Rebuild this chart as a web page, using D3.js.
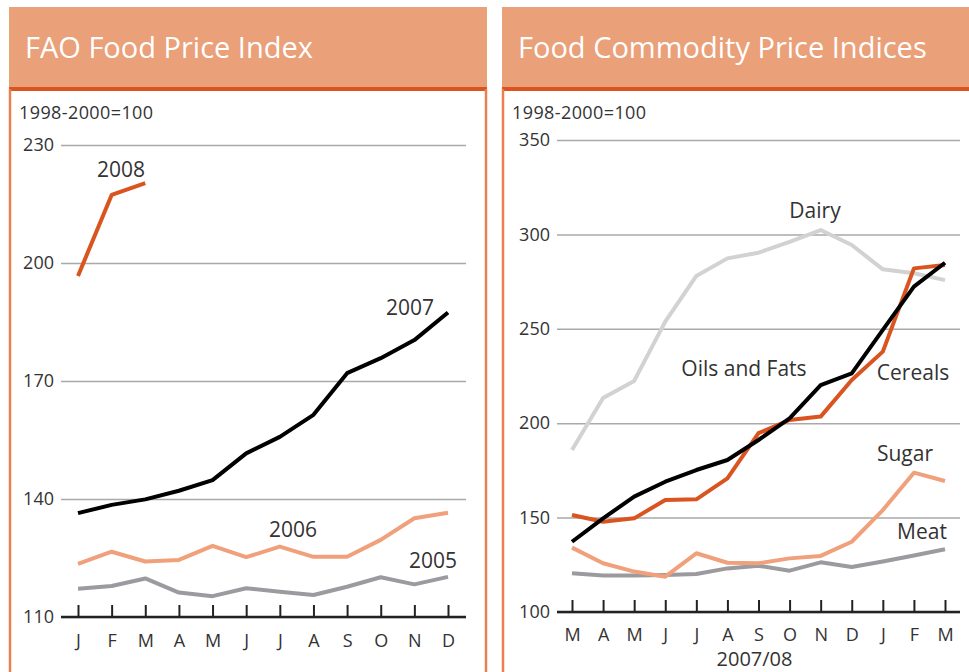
<!DOCTYPE html>
<html>
<head>
<meta charset="utf-8">
<script src="https://cdn.jsdelivr.net/npm/d3@7"></script>
<style>
  body { margin: 0; background: #fff; }
  svg text { font-family: "Open Sans", "Noto Sans", sans-serif; }
  .tick text { fill: #333; }
</style>
</head>
<body>
<div id="wrap"></div>
<script>
// ---- data ----
const monthsLeft = ["J","F","M","A","M","J","J","A","S","O","N","D"];
const monthsRight = ["M","A","M","J","J","A","S","O","N","D","J","F","M"];

const fao2005 = [117.2, 117.9, 119.8, 116.2, 115.3, 117.3, 116.4, 115.6, 117.7, 120.1, 118.3, 120.2];
const fao2006 = [123.5, 126.6, 124.1, 124.5, 128.1, 125.2, 127.9, 125.3, 125.3, 129.6, 135.1, 136.5];
const fao2007 = [136.4, 138.5, 139.9, 142.1, 144.8, 151.6, 155.8, 161.4, 172.0, 175.8, 180.4, 187.4];
const fao2008 = [196.7, 217.3, 220.3];

const dairy   = [185.8, 213.3, 222.4, 253.8, 278.0, 287.3, 290.3, 296.1, 302.3, 294.4, 281.5, 279.4, 275.8];
const oils    = [137.2, 149.6, 161.1, 169.0, 175.2, 180.5, 191.1, 202.6, 220.2, 226.4, 249.4, 272.3, 285.0];
const cereals = [151.4, 147.8, 149.6, 159.3, 159.7, 170.8, 194.7, 201.7, 203.5, 222.9, 237.9, 282.0, 283.8];
const sugar   = [134.1, 125.8, 121.4, 118.7, 131.1, 126.1, 125.8, 128.4, 129.7, 137.2, 154.0, 173.8, 169.4];
const meat    = [120.5, 119.3, 119.3, 119.6, 120.1, 123.1, 124.5, 121.9, 126.3, 123.8, 126.7, 129.9, 133.2];

const yTicksLeft = [110, 140, 170, 200, 230];
const yTicksRight = [100, 150, 200, 250, 300, 350];

// colours
const orangeDark = "#d9541e";
const orangeLight = "#f0a17c";
const greyMid = "#9b9b9f";
const greyLight = "#d2d2d2";

// panels config
const panels = [
  {
    title: "FAO Food Price Index",
    headerX: [9, 487],
    border: [10, 486],
    months: monthsLeft,
    xRange: [78, 448],
    grid: [61, 466],
    yDomain: [110, 230],
    yRange: [617, 145],
    yTicks: yTicksLeft,
    tickPad: 17,
    series: [
      {values: fao2005, color: greyMid},
      {values: fao2006, color: orangeLight},
      {values: fao2007, color: "#000"},
      {values: fao2008, color: orangeDark}
    ],
    labels: [
      {text: "2008", x: 121, y: 177},
      {text: "2007", x: 410, y: 315},
      {text: "2006", x: 293, y: 537},
      {text: "2005", x: 433, y: 568}
    ]
  },
  {
    title: "Food Commodity Price Indices",
    headerX: [502, 975],
    border: [503, 975],
    months: monthsRight,
    xRange: [572, 945],
    grid: [557, 960],
    yDomain: [100, 350],
    yRange: [612, 140],
    yTicks: yTicksRight,
    tickPad: 16,
    xTitle: "2007/08",
    series: [
      {values: dairy, color: greyLight},
      {values: meat, color: greyMid},
      {values: sugar, color: orangeLight},
      {values: cereals, color: orangeDark},
      {values: oils, color: "#000"}
    ],
    labels: [
      {text: "Dairy", x: 815, y: 218},
      {text: "Oils and Fats", x: 744, y: 376},
      {text: "Cereals", x: 913, y: 380},
      {text: "Sugar", x: 905, y: 461},
      {text: "Meat", x: 922, y: 539}
    ]
  }
];

const svg = d3.select("#wrap").append("svg")
  .attr("width", 969)
  .attr("height", 672);

panels.forEach(p => drawPanel(p));

function drawPanel(p) {
  const g = svg.append("g");

  // header band
  g.append("rect")
    .attr("x", p.headerX[0]).attr("y", 7)
    .attr("width", p.headerX[1] - p.headerX[0]).attr("height", 81)
    .attr("fill", "#eaa078");
  g.append("rect")
    .attr("x", p.headerX[0]).attr("y", 87)
    .attr("width", p.headerX[1] - p.headerX[0]).attr("height", 4)
    .attr("fill", orangeDark);
  g.append("text")
    .attr("x", p.headerX[0] + 16).attr("y", 58)
    .attr("fill", "#fff")
    .attr("font-size", 29)
    .text(p.title);

  // panel side borders
  p.border.forEach(bx => {
    g.append("line")
      .attr("x1", bx).attr("x2", bx)
      .attr("y1", 89).attr("y2", 672)
      .attr("stroke", "#e9804f").attr("stroke-width", 2.5);
  });

  g.append("text")
    .attr("x", p.border[0] + 9).attr("y", 119)
    .attr("fill", "#333")
    .attr("font-size", 18)
    .attr("letter-spacing", 0.4)
    .text("1998-2000=100");

  const x = d3.scalePoint().domain(d3.range(p.months.length)).range(p.xRange);
  const y = d3.scaleLinear().domain(p.yDomain).range(p.yRange);

  // y gridlines + labels
  const yAxis = g.append("g")
    .attr("transform", `translate(${p.grid[0]},0)`)
    .call(d3.axisLeft(y).tickValues(p.yTicks)
      .tickSize(-(p.grid[1] - p.grid[0])).tickPadding(7));
  yAxis.select(".domain").remove();
  yAxis.selectAll(".tick line").attr("stroke", "#a9a9a9").attr("stroke-width", 1.5);
  yAxis.selectAll(".tick text").attr("font-size", 18).attr("font-family", "Open Sans, sans-serif");

  // lines
  const line = d3.line().x((d, i) => x(i)).y(d => y(d));
  p.series.forEach(s => {
    g.append("path")
      .datum(s.values)
      .attr("d", line)
      .attr("fill", "none")
      .attr("stroke", s.color)
      .attr("stroke-width", 4)
      .attr("stroke-linejoin", "round");
  });

  // x axis
  const xAxis = g.append("g")
    .attr("transform", `translate(0,${p.yRange[0]})`)
    .call(d3.axisBottom(x).tickSize(-12).tickSizeOuter(0).tickPadding(p.tickPad)
      .tickFormat(i => p.months[i]));
  xAxis.select(".domain").remove();
  xAxis.selectAll(".tick line").attr("stroke", "#222").attr("stroke-width", 2);
  xAxis.selectAll(".tick text").attr("font-size", 18).attr("font-family", "Open Sans, sans-serif");
  g.append("line")
    .attr("x1", p.grid[0]).attr("x2", p.grid[1])
    .attr("y1", p.yRange[0]).attr("y2", p.yRange[0])
    .attr("stroke", "#222").attr("stroke-width", 2.5);

  if (p.xTitle) {
    g.append("text")
      .attr("x", (p.xRange[0] + p.xRange[1]) / 2 - 4).attr("y", 666)
      .attr("text-anchor", "middle")
      .attr("fill", "#333")
      .attr("font-size", 20)
      .text(p.xTitle);
  }

  // series labels
  g.selectAll(".series-label").data(p.labels).enter()
    .append("text")
    .attr("class", "series-label")
    .attr("x", d => d.x).attr("y", d => d.y)
    .attr("text-anchor", "middle")
    .attr("fill", "#333")
    .attr("font-size", 21)
    .text(d => d.text);
}
</script>
</body>
</html>
